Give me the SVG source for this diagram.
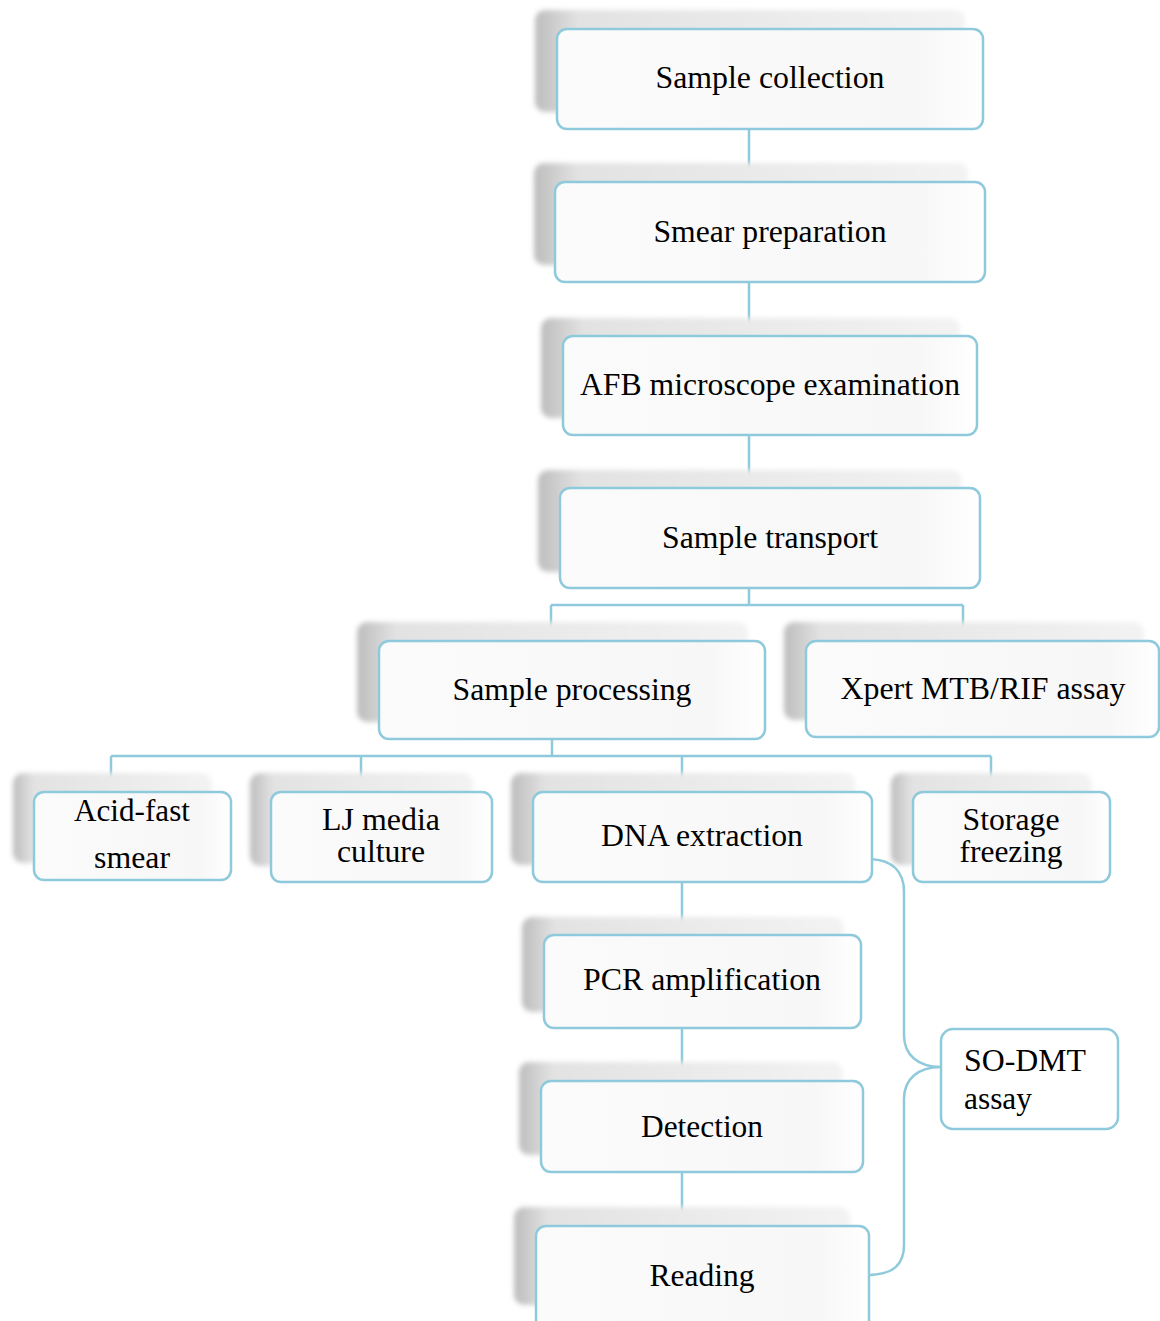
<svg xmlns="http://www.w3.org/2000/svg" width="1160" height="1321" viewBox="0 0 1160 1321">
<defs>
<linearGradient id="shH" x1="0" y1="0" x2="1" y2="0">
<stop offset="0" stop-color="#bdbdbd"/>
<stop offset="0.1" stop-color="#e2e2e2"/>
<stop offset="1" stop-color="#f3f3f3"/>
</linearGradient>
<linearGradient id="boxG" x1="0" y1="0" x2="1" y2="0">
<stop offset="0" stop-color="#fbfbfb"/>
<stop offset="0.85" stop-color="#f7f7f7"/>
<stop offset="1" stop-color="#ffffff"/>
</linearGradient>
<filter id="blur" x="-5%" y="-10%" width="110%" height="120%">
<feGaussianBlur stdDeviation="2.5"/>
</filter>
<style>
.sh{fill:url(#shH);filter:url(#blur);}
.bx{fill:url(#boxG);stroke:#8ecadb;stroke-width:2.5;}
.cn{fill:none;stroke:#8ecadb;stroke-width:2.5;}
text{font-family:'Liberation Serif','Times New Roman',serif;font-size:31px;fill:#000;}
.t{text-anchor:middle;}
</style>
</defs>
<rect width="1160" height="1321" fill="#ffffff"/>

<g id="connectors">
<path class="cn" d="M749,129 V182 M749,282 V336 M749,435 V488"/>
<path class="cn" d="M749,588 V605 M551,605 H963 M551,605 V641 M963,605 V641"/>
<path class="cn" d="M552,739 V756 M111,756 H991 M111,756 V792 M361,756 V792 M682,756 V792 M991,756 V792"/>
<path class="cn" d="M682,882 V935 M682,1028 V1081 M682,1172 V1226"/>
<path class="cn" d="M870,859 C893,860 904,872 904,892 V1035 C904,1055 918,1067 941,1067 C918,1067 904,1079 904,1099 V1245 C904,1265 893,1274 870,1275"/>
</g>

<g id="n1">
<rect class="sh" x="535" y="10" width="430" height="102" rx="10"/>
<rect class="bx" x="557" y="29" width="426" height="100" rx="10"/>
<text class="t" x="770" y="88" textLength="229" lengthAdjust="spacingAndGlyphs">Sample collection</text>
</g>
<g id="n2">
<rect class="sh" x="534" y="163" width="434" height="102" rx="10"/>
<rect class="bx" x="555" y="182" width="430" height="100" rx="10"/>
<text class="t" x="770" y="242" textLength="233" lengthAdjust="spacingAndGlyphs">Smear preparation</text>
</g>
<g id="n3">
<rect class="sh" x="541" y="318" width="419" height="100" rx="10"/>
<rect class="bx" x="563" y="336" width="414" height="99" rx="10"/>
<text class="t" x="770" y="395" textLength="380" lengthAdjust="spacingAndGlyphs">AFB microscope examination</text>
</g>
<g id="n4">
<rect class="sh" x="538" y="470" width="424" height="102" rx="10"/>
<rect class="bx" x="560" y="488" width="420" height="100" rx="10"/>
<text class="t" x="770" y="548" textLength="216" lengthAdjust="spacingAndGlyphs">Sample transport</text>
</g>
<g id="n5">
<rect class="sh" x="357" y="622" width="391" height="100" rx="10"/>
<rect class="bx" x="379" y="641" width="386" height="98" rx="10"/>
<text class="t" x="572" y="700" textLength="239" lengthAdjust="spacingAndGlyphs">Sample processing</text>
</g>
<g id="n6">
<rect class="sh" x="784" y="622" width="360" height="98" rx="10"/>
<rect class="bx" x="806" y="641" width="353" height="96" rx="10"/>
<text class="t" x="983" y="699" textLength="285" lengthAdjust="spacingAndGlyphs">Xpert MTB/RIF assay</text>
</g>
<g id="n7">
<rect class="sh" x="13" y="773" width="199" height="90" rx="10"/>
<rect class="bx" x="34" y="792" width="197" height="88" rx="10"/>
<text class="t" x="132" y="821" textLength="116" lengthAdjust="spacingAndGlyphs">Acid-fast</text>
<text class="t" x="132" y="868" textLength="76" lengthAdjust="spacingAndGlyphs">smear</text>
</g>
<g id="n8">
<rect class="sh" x="250" y="773" width="223" height="93" rx="10"/>
<rect class="bx" x="271" y="792" width="221" height="90" rx="10"/>
<text class="t" x="381" y="830" textLength="118" lengthAdjust="spacingAndGlyphs">LJ media</text>
<text class="t" x="381" y="862" textLength="88" lengthAdjust="spacingAndGlyphs">culture</text>
</g>
<g id="n9">
<rect class="sh" x="511" y="773" width="344" height="92" rx="10"/>
<rect class="bx" x="533" y="792" width="339" height="90" rx="10"/>
<text class="t" x="702" y="846" textLength="202" lengthAdjust="spacingAndGlyphs">DNA extraction</text>
</g>
<g id="n10">
<rect class="sh" x="891" y="773" width="201" height="92" rx="10"/>
<rect class="bx" x="913" y="792" width="197" height="90" rx="10"/>
<text class="t" x="1011" y="830" textLength="97" lengthAdjust="spacingAndGlyphs">Storage</text>
<text class="t" x="1011" y="862" textLength="103" lengthAdjust="spacingAndGlyphs">freezing</text>
</g>
<g id="n11">
<rect class="sh" x="522" y="917" width="322" height="95" rx="10"/>
<rect class="bx" x="544" y="935" width="317" height="93" rx="10"/>
<text class="t" x="702" y="990" textLength="238" lengthAdjust="spacingAndGlyphs">PCR amplification</text>
</g>
<g id="n12">
<rect class="sh" x="519" y="1062" width="324" height="93" rx="10"/>
<rect class="bx" x="541" y="1081" width="322" height="91" rx="10"/>
<text class="t" x="702" y="1137" textLength="122" lengthAdjust="spacingAndGlyphs">Detection</text>
</g>
<g id="n13">
<rect class="sh" x="514" y="1207" width="336" height="98" rx="10"/>
<rect class="bx" x="536" y="1226" width="333" height="105" rx="10"/>
<text class="t" x="702" y="1286" textLength="105" lengthAdjust="spacingAndGlyphs">Reading</text>
</g>
<g id="n14">
<rect class="bx" x="941" y="1029" width="177" height="100" rx="12" style="fill:#ffffff"/>
<text x="964" y="1071" textLength="122" lengthAdjust="spacingAndGlyphs">SO-DMT</text>
<text x="964" y="1109" textLength="68" lengthAdjust="spacingAndGlyphs">assay</text>
</g>
</svg>
